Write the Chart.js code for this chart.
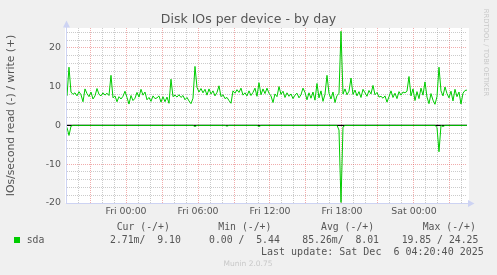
<!DOCTYPE html>
<html>
<head>
<meta charset="utf-8">
<title>Disk IOs per device - by day</title>
<script src="https://cdn.jsdelivr.net/npm/chart.js@4.4.1/dist/chart.umd.min.js"></script>
<style>
  html, body { margin: 0; padding: 0; background: #f0f0f0; }
  canvas { display: block; }
</style>
</head>
<body>
<canvas id="diskChart" width="497" height="275"></canvas>
<script>
'use strict';

// one sample every 10 minutes, x is hours from Fri 00:00
const startHour = -4.917;
const stepHours = 1 / 6;

// sda write IOs/s (+)
const sdaWrite = [
  7.6, 15.0, 8.6, 8.0, 8.4, 7.6, 8.7, 7.9, 6.1, 9.4,
  8.2, 7.4, 8.6, 6.8, 7.6, 9.5, 8.0, 7.6, 8.4, 7.8,
  8.3, 7.7, 12.9, 7.1, 7.6, 6.1, 7.4, 6.8, 7.5, 8.8,
  7.2, 5.5, 7.7, 6.4, 7.0, 8.5, 7.3, 9.3, 7.8, 8.6,
  6.6, 7.2, 6.2, 7.6, 6.9, 7.1, 7.6, 6.0, 7.4, 6.1,
  7.3, 5.7, 11.9, 7.4, 7.8, 7.3, 7.9, 7.2, 7.7, 6.6,
  7.2, 6.3, 5.6, 7.0, 15.2, 9.8, 8.6, 9.5, 8.4, 9.3,
  7.8, 9.4, 8.1, 8.9, 7.6, 8.5, 10.2, 7.4, 7.9, 6.9,
  7.2, 6.4, 5.7, 8.9, 8.3, 9.2, 8.5, 9.6, 7.8, 8.4,
  7.6, 8.9, 7.7, 8.5, 9.6, 7.5, 11.0, 7.9, 9.4, 8.2,
  9.6, 8.3, 7.6, 5.9, 8.1, 7.4, 10.0, 8.0, 8.8, 7.2,
  8.4, 7.5, 8.1, 6.9, 7.8, 8.3, 7.1, 7.9, 9.6, 8.5,
  6.6, 8.4, 7.0, 8.6, 6.5, 10.8, 7.1, 8.9, 6.2, 8.0,
  12.9, 8.3, 6.8, 8.6, 5.9, 7.7, 8.2, 24.25, 8.1, 9.4,
  7.9, 8.8, 12.2, 8.0, 9.1, 7.6, 8.7, 7.2, 9.3, 8.4,
  7.5, 9.0, 8.1, 10.3, 7.9, 8.5, 7.3, 7.5, 7.0, 7.6,
  6.0, 7.4, 8.9, 7.2, 8.3, 6.9, 8.7, 7.8, 8.6, 8.4,
  8.8, 12.6, 7.6, 9.4, 6.4, 8.7, 6.9, 9.6, 7.8, 11.2,
  7.3, 5.6, 8.2, 6.5, 5.44, 7.4, 15.0, 8.9, 7.6, 9.9,
  8.2, 7.1, 8.8, 6.3, 9.3, 7.4, 8.6, 5.5, 8.3, 9.0,
  9.1
];

// sda read IOs/s (-), drawn below zero
const sdaRead = [
  0.5, 2.6, 0.2, 0, 0, 0, 0, 0, 0, 0, 0, 0, 0, 0, 0, 0, 0, 0, 0, 0,
  0, 0, 0, 0, 0, 0, 0, 0, 0, 0, 0, 0, 0, 0, 0, 0, 0, 0, 0, 0,
  0, 0, 0, 0, 0, 0, 0, 0, 0, 0, 0, 0, 0, 0, 0, 0, 0, 0, 0, 0,
  0, 0, 0, 0, 0.3, 0, 0, 0, 0, 0, 0, 0, 0, 0, 0, 0, 0, 0, 0, 0,
  0.2, 0, 0, 0, 0, 0, 0, 0, 0, 0, 0, 0, 0, 0, 0, 0, 0.3, 0, 0, 0,
  0, 0, 0, 0, 0, 0, 0, 0, 0, 0, 0, 0, 0, 0, 0, 0, 0, 0, 0, 0,
  0, 0, 0, 0, 0, 0, 0, 0, 0, 0, 0, 0, 0, 0, 0, 0, 1.2, 19.85, 0.4, 0,
  0, 0, 0, 0, 0, 0, 0, 0, 0, 0, 0, 0, 0, 0, 0, 0, 0, 0, 0, 0,
  0, 0, 0, 0, 0, 0, 0, 0, 0, 0, 0, 0, 0, 0, 0, 0, 0, 0, 0, 0,
  0, 0, 0, 0, 0, 0.5, 6.8, 0, 0.3, 0, 0, 0, 0, 0, 0, 0, 0, 0, 0, 0,
  0.003
];

const xTickHours = [0, 6, 12, 18, 24];
const xTickLabels = ['Fri 00:00', 'Fri 06:00', 'Fri 12:00', 'Fri 18:00', 'Sat 00:00'];
const yTickValues = [-20, -10, 0, 10, 20];
const yTickLabels = ['-20', '-10', '0', '10', '20'];

const legendHeaders = ['Cur (-/+)', 'Min (-/+)', 'Avg (-/+)', 'Max (-/+)'];
const legendValues = ['2.71m/  9.10', '0.00 /  5.44', '85.26m/  8.01', '19.85 / 24.25'];
const lastUpdate = 'Last update: Sat Dec  6 04:20:40 2025';

const green = '#00cc00';
const textGray = '#555555';
const minorGrid = 'rgba(140, 140, 140, 0.45)';
const majorGrid = 'rgba(225, 70, 70, 0.45)';
const axisBlue = '#cdd3f3';

function toPoints( values, sign ) {
  return values.map( ( v, i ) => ( { x: startHour + i * stepHours, y: sign * v } ) );
}

function arrow( ctx, x1, y1, x2, y2, x3, y3 ) {
  ctx.beginPath();
  ctx.moveTo( x1, y1 );
  ctx.lineTo( x2, y2 );
  ctx.lineTo( x3, y3 );
  ctx.closePath();
  ctx.fill();
}

const muninFrame = {
  id: 'muninFrame',
  beforeDraw( chart ) {
    const { ctx, chartArea: a } = chart;
    ctx.save();
    ctx.fillStyle = '#f0f0f0';
    ctx.fillRect( 0, 0, chart.width, chart.height );
    ctx.fillStyle = '#ffffff';
    ctx.fillRect( a.left - 2, a.top, a.right - a.left + 4, a.bottom - a.top );
    ctx.restore();
  },
  beforeDatasetsDraw( chart ) {
    const { ctx, chartArea: a } = chart;
    const y0 = chart.scales.y.getPixelForValue( 0 );
    ctx.save();
    ctx.strokeStyle = '#000000';
    ctx.lineWidth = 1.2;
    ctx.beginPath();
    ctx.moveTo( a.left, y0 );
    ctx.lineTo( a.right, y0 );
    ctx.stroke();
    ctx.restore();
  },
  afterDraw( chart ) {
    const { ctx, chartArea: a } = chart;
    ctx.save();

    // axes with arrows
    ctx.strokeStyle = axisBlue;
    ctx.fillStyle = axisBlue;
    ctx.lineWidth = 1;
    ctx.beginPath();
    ctx.moveTo( a.left - 0.5, a.bottom + 0.5 );
    ctx.lineTo( a.left - 0.5, a.top - 6 );
    ctx.moveTo( a.left - 1, a.bottom + 0.5 );
    ctx.lineTo( a.right + 4, a.bottom + 0.5 );
    ctx.stroke();
    arrow( ctx, a.left - 0.5, a.top - 7.5, a.left - 4, a.top - 0.5, a.left + 3, a.top - 0.5 );
    arrow( ctx, a.right + 7.5, a.bottom + 0.5, a.right + 1, a.bottom - 3, a.right + 1, a.bottom + 4 );

    // title
    ctx.fillStyle = textGray;
    ctx.font = '12.5px "DejaVu Sans"';
    ctx.textAlign = 'center';
    ctx.textBaseline = 'alphabetic';
    ctx.fillText( 'Disk IOs per device - by day', 248.5, 23.3 );

    // y axis title
    ctx.save();
    ctx.translate( 11, 115.5 );
    ctx.rotate( -Math.PI / 2 );
    ctx.font = '10.8px "DejaVu Sans"';
    ctx.textBaseline = 'middle';
    ctx.fillText( 'IOs/second read (-) / write (+)', 0, 0 );
    ctx.restore();

    // legend
    ctx.font = '9.8px "DejaVu Sans Mono"';
    ctx.textAlign = 'left';
    ctx.textBaseline = 'middle';
    const headerX = [116.7, 218.3, 321, 422.7];
    const valueX = [110, 209, 302.3, 401.7];
    legendHeaders.forEach( ( t, i ) => ctx.fillText( t, headerX[i], 227.5 ) );
    ctx.fillText( 'sda', 26.7, 240.2 );
    legendValues.forEach( ( t, i ) => ctx.fillText( t, valueX[i], 240.2 ) );
    ctx.font = '10px "DejaVu Sans Mono"';
    ctx.fillText( lastUpdate, 261, 252 );
    ctx.fillStyle = green;
    ctx.fillRect( 14, 237, 6, 6 );

    // watermarks
    ctx.fillStyle = '#c8c8c8';
    ctx.font = '7.5px "DejaVu Sans"';
    ctx.textAlign = 'center';
    ctx.fillText( 'Munin 2.0.75', 248, 264.5 );
    ctx.save();
    ctx.translate( 486, 52.5 );
    ctx.rotate( Math.PI / 2 );
    ctx.font = '6.8px "DejaVu Sans"';
    ctx.fillText( 'RRDTOOL / TOBI OETIKER', 0, 0 );
    ctx.restore();

    ctx.restore();
  }
};

Chart.defaults.font.family = '"DejaVu Sans"';
Chart.defaults.color = textGray;

let ctx = document.getElementById( 'diskChart' ).getContext( '2d' );

let diskChart = new Chart( ctx, {
  type: 'line',
  data: {
    datasets: [
      {
        label: 'sda write',
        data: toPoints( sdaWrite, 1 ),
        borderColor: green,
        borderWidth: 1,
        pointRadius: 0,
        tension: 0,
        fill: false
      },
      {
        label: 'sda read',
        data: toPoints( sdaRead, -1 ),
        borderColor: green,
        borderWidth: 1,
        pointRadius: 0,
        tension: 0,
        fill: false
      }
    ]
  },
  options: {
    responsive: false,
    animation: false,
    devicePixelRatio: 1,
    layout: { padding: { top: 28, right: 30, left: 0, bottom: 0 } },
    plugins: {
      legend: { display: false },
      title: { display: false },
      tooltip: { enabled: false }
    },
    scales: {
      x: {
        type: 'linear',
        min: startHour,
        max: 28.417,
        afterFit: s => { s.height = 72; },
        afterBuildTicks: s => {
          let ticks = [];
          for( let h = Math.ceil( s.min ); h <= Math.floor( s.max ); h++ ) {
            ticks.push( { value: h } );
          }
          s.ticks = ticks;
        },
        ticks: {
          autoSkip: false,
          maxRotation: 0,
          padding: 3,
          font: { size: 9.4 },
          callback: v => {
            let idx = xTickHours.indexOf( v );
            return idx >= 0 ? xTickLabels[idx] : '';
          }
        },
        grid: {
          drawTicks: false,
          lineWidth: 1,
          color: c => ( c.tick && c.tick.value % 3 === 0 ) ? majorGrid : minorGrid
        },
        border: { display: false, dash: [1, 1] }
      },
      y: {
        min: -20,
        max: 25.1,
        afterFit: s => { s.width = 67; },
        afterBuildTicks: s => {
          let ticks = [];
          for( let v = -20; v <= 24; v += 2 ) {
            ticks.push( { value: v } );
          }
          s.ticks = ticks;
        },
        ticks: {
          autoSkip: false,
          padding: 6,
          font: { size: 9.4 },
          callback: v => {
            let idx = yTickValues.indexOf( v );
            return idx >= 0 ? yTickLabels[idx] : '';
          }
        },
        grid: {
          drawTicks: false,
          lineWidth: 1,
          color: c => ( c.tick && c.tick.value % 10 === 0 ) ? majorGrid : minorGrid
        },
        border: { display: false, dash: [1, 1] }
      }
    }
  },
  plugins: [muninFrame]
} );
</script>
</body>
</html>
